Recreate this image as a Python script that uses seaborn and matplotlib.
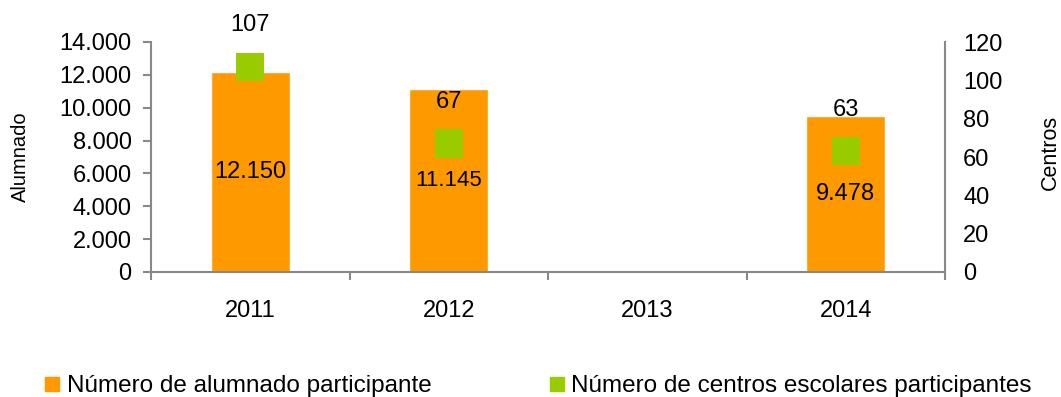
import matplotlib
matplotlib.use("Agg")
import matplotlib.pyplot as plt
from matplotlib.ticker import FuncFormatter, FixedLocator
from matplotlib.lines import Line2D
import numpy as np
import pandas as pd
import seaborn as sns

years = ["2011", "2012", "2013", "2014"]
alumnado = [12150, 11145, np.nan, 9478]
centros = [107, 67, np.nan, 63]
alumnado_labels = ["12.150", "11.145", "", "9.478"]
alumnado_label_sizes = [17, 16, 17, 17]
centros_labels = ["107", "67", "", "63"]
legend_labels = ["Número de alumnado participante",
                 "Número de centros escolares participantes"]

ORANGE = "#FF9900"
GREEN = "#99CC00"
GREY = "#888888"

sns.set_theme(style="white")
plt.rcParams["font.family"] = ["Liberation Sans", "DejaVu Sans"]
plt.rcParams["text.color"] = "black"

df = pd.DataFrame({"year": years, "alumnado": alumnado, "centros": centros})

W, H = 1061, 397
fig = plt.figure(figsize=(W / 100, H / 100), dpi=100)
ax = fig.add_axes([151 / W, 1 - 272 / H, (945 - 151) / W, (272 - 42) / H])

# bars: students per year
sns.barplot(data=df, x="year", y="alumnado", order=years, color=ORANGE,
            saturation=1, width=0.4, ax=ax)
ax.set_ylim(0, 14000)
ax.set_xlim(-0.5, 3.5)
ax.yaxis.set_major_locator(FixedLocator(np.arange(0, 14001, 2000)))
ax.yaxis.set_major_formatter(FuncFormatter(lambda v, p: f"{int(v):,}".replace(",", ".")))

# squares: schools per year on the secondary axis
ax2 = ax.twinx()
df["xpos"] = df["year"].map({y: i for i, y in enumerate(years)})
sns.scatterplot(data=df.dropna(), x="xpos", y="centros", marker="s", s=420,
                color=GREEN, edgecolor="none", linewidth=0, ax=ax2, legend=False)
ax2.set_ylim(0, 120)
ax2.set_xlim(-0.5, 3.5)
ax2.yaxis.set_major_locator(FixedLocator(np.arange(0, 121, 20)))

# value labels
for i, (v, lab, fs) in enumerate(zip(alumnado, alumnado_labels, alumnado_label_sizes)):
    if not np.isnan(v):
        ax.text(i, v / 2, lab, ha="center", va="center", fontsize=fs, color="black")
for i, (v, lab) in enumerate(zip(centros, centros_labels)):
    if not np.isnan(v):
        ax2.annotate(lab, (i, v), xytext=(0, 30), textcoords="offset points",
                     ha="center", va="center", fontsize=17, color="black")

# spines and ticks
for a in (ax, ax2):
    for s in a.spines.values():
        s.set_visible(False)
for s in (ax.spines["left"], ax.spines["bottom"], ax2.spines["right"]):
    s.set_visible(True)
    s.set_color(GREY)
    s.set_linewidth(1.5)

ax.set_xticks(range(len(years)))
ax.set_xticklabels(years)
ax.set_xticks(np.arange(-0.5, 3.6, 1), minor=True)
ax.tick_params(axis="x", which="major", length=0, pad=20, labelsize=17, colors="black")
ax.tick_params(axis="x", which="minor", length=6, width=1.5, color=GREY,
               direction="out", bottom=True)
ax.tick_params(axis="y", which="major", length=6, width=1.5, color=GREY, direction="out",
               left=True, labelsize=17, labelcolor="black", pad=8)
ax2.tick_params(axis="y", which="major", length=0, right=True, labelsize=17,
                labelcolor="black", pad=13)

ax.set_xlabel("")
ax.set_ylabel("")
ax2.set_xlabel("")
ax2.set_ylabel("")
ax.grid(False)
ax2.grid(False)

fig.text(20 / W, 1 - 157 / H, "Alumnado", rotation=90, ha="center", va="center",
         fontsize=14.5, color="black")
fig.text(1050 / W, 1 - 152 / H, "Centros", rotation=90, ha="center", va="center",
         fontsize=15.5, color="black")

# legend entries
for color, label, x0 in [(ORANGE, legend_labels[0], 42.5), (GREEN, legend_labels[1], 547)]:
    h = Line2D([], [], marker="s", linestyle="", markersize=10, color=color)
    leg = fig.legend([h], [label], loc="center left", bbox_to_anchor=(x0 / W, 1 - 386 / H),
                     frameon=False, fontsize=17.5, handletextpad=0.2, handlelength=0.8,
                     borderpad=0, borderaxespad=0)
    for t in leg.get_texts():
        t.set_color("black")

fig.savefig("out.png", dpi=100)
